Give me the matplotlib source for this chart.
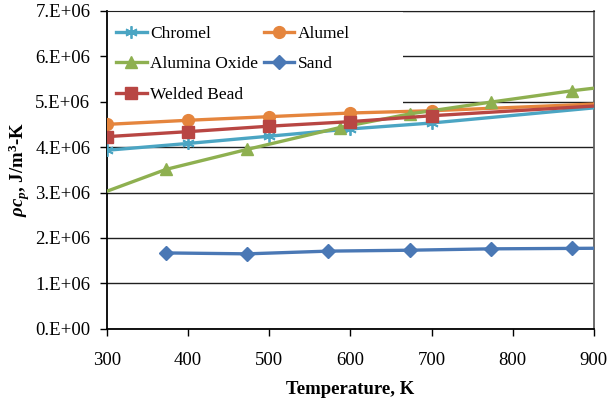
import matplotlib
matplotlib.use('Agg')
import matplotlib.pyplot as plt
from matplotlib.patches import Rectangle

plt.rcParams['font.family'] = ['Liberation Serif', 'DejaVu Serif']
plt.rcParams['mathtext.fontset'] = 'custom'
plt.rcParams['mathtext.it'] = 'Liberation Serif:bold:italic'
plt.rcParams['mathtext.rm'] = 'Liberation Serif:bold'
plt.rcParams['mathtext.bf'] = 'Liberation Serif:bold'

# data (points outside 300-900 K get clipped by the axes)
T_chromel = [300, 400, 500, 600, 700, 1000]
chromel = [3.93e6, 4.08e6, 4.24e6, 4.40e6, 4.53e6, 5.03e6]

T_alumel = [300, 400, 500, 600, 700, 1000]
alumel = [4.50e6, 4.59e6, 4.67e6, 4.75e6, 4.80e6, 5.02e6]

T_alumina = [273, 373, 473, 587, 673, 773, 873, 973]
alumina = [2.85e6, 3.51e6, 3.95e6, 4.43e6, 4.73e6, 4.99e6, 5.24e6, 5.45e6]

T_sand = [373, 473, 573, 673, 773, 873, 973]
sand = [1.67e6, 1.65e6, 1.71e6, 1.73e6, 1.76e6, 1.77e6, 1.78e6]

T_welded = [300, 400, 500, 600, 700, 1000]
welded = [4.23e6, 4.34e6, 4.46e6, 4.56e6, 4.69e6, 5.01e6]

xticks = [300, 400, 500, 600, 700, 800, 900]
yticks = [0, 1e6, 2e6, 3e6, 4e6, 5e6, 6e6, 7e6]
ytick_labels = ['0.E+00', '1.E+06', '2.E+06', '3.E+06', '4.E+06', '5.E+06', '6.E+06', '7.E+06']

fig = plt.figure(figsize=(6.11, 4.0), dpi=100)
ax = fig.add_axes([0.175, 0.178, 0.797, 0.795])

lw = 2.4
h1, = ax.plot(T_chromel, chromel, color='#4BA5C3', lw=lw, marker=(6, 2, 0), ms=9, mew=1.3, label='Chromel', zorder=3)
h2, = ax.plot(T_alumel, alumel, color='#E5853D', lw=lw, marker='o', ms=8.5, label='Alumel', zorder=3)
h3, = ax.plot(T_alumina, alumina, color='#8EB050', lw=lw, marker='^', ms=9, label='Alumina Oxide', zorder=3)
h4, = ax.plot(T_sand, sand, color='#4A78B5', lw=lw, marker='D', ms=7, label='Sand', zorder=3)
h5, = ax.plot(T_welded, welded, color='#B84643', lw=lw, marker='s', ms=8.5, label='Welded Bead', zorder=3)

ax.set_xlim(300, 900)
ax.set_ylim(0, 7e6)
ax.set_xticks(xticks)
ax.set_yticks(yticks)
ax.set_yticklabels(ytick_labels)
ax.tick_params(labelsize=13.5, direction='out', length=5, width=1, colors='black')
ax.tick_params(axis='x', pad=12)
ax.tick_params(axis='y', pad=7)

ax.yaxis.grid(True, color='#202020', lw=1)
ax.set_axisbelow(True)
for s in ['left', 'bottom']:
    ax.spines[s].set_color('black')
    ax.spines[s].set_linewidth(1.3)
ax.spines['top'].set_color('#202020')
ax.spines['right'].set_color('#606060')
ax.spines['right'].set_linewidth(1.3)

ax.set_xlabel('Temperature, K', fontsize=13.5, fontweight='bold', labelpad=8)
ax.set_ylabel(r'$\rho c_p$, J/m$^3$-K', fontsize=13.5, fontweight='bold', labelpad=2)

# white area behind the legend hides the gridlines there
ax.add_patch(Rectangle((0, 0.682), 0.608, 0.318, transform=ax.transAxes,
                       facecolor='white', edgecolor='none', zorder=1.5))

leg = ax.legend([h1, h3, h5, h2, h4], ['Chromel', 'Alumina Oxide', 'Welded Bead', 'Alumel', 'Sand'],
                ncol=2, loc='upper left', bbox_to_anchor=(0.0185, 0.953),
                fontsize=12.5, frameon=False, handlelength=1.78, handletextpad=0.2,
                borderaxespad=0.0, borderpad=0.0, labelspacing=0.82, columnspacing=0.3)
leg.set_zorder(5)

fig.savefig('out.png', dpi=100)
